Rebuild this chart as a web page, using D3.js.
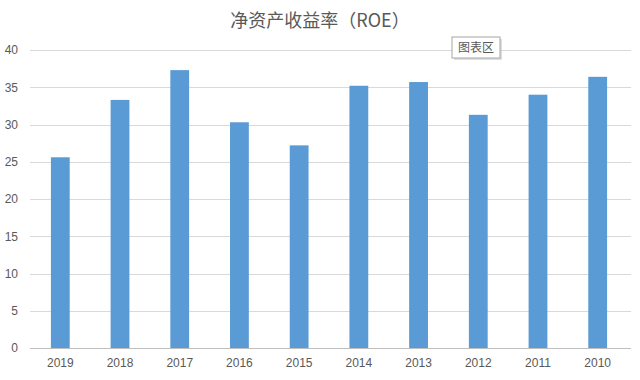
<!DOCTYPE html>
<html>
<head>
<meta charset="utf-8">
<script src="https://cdn.jsdelivr.net/npm/d3@7"></script>
<style>
  body { margin: 0; background: #fff; }
  svg text { fill: #595959; }
</style>
</head>
<body>
<div id="chart"></div>
<script>
var years = ["2019", "2018", "2017", "2016", "2015", "2014", "2013", "2012", "2011", "2010"];
var roe = [25.6, 33.3, 37.3, 30.3, 27.2, 35.2, 35.7, 31.3, 34.0, 36.4];
var yTicks = [0, 5, 10, 15, 20, 25, 30, 35, 40];
var title = "净资产收益率（ROE）";
var tipText = "图表区";

var width = 640, height = 380;
var margin = {top: 50, right: 9, bottom: 32, left: 30};

var svg = d3.select("#chart")
    .append("svg")
    .attr("width", width)
    .attr("height", height);

var xScale = d3.scaleBand()
    .domain(years)
    .range([margin.left, 628])
    .paddingInner(0.685)
    .paddingOuter(0.35);

var yScale = d3.scaleLinear()
    .domain([0, 40])
    .range([height - margin.bottom, margin.top]);

// gridlines
svg.append("g")
    .selectAll("line")
    .data(yTicks)
    .enter()
    .append("line")
    .attr("x1", margin.left)
    .attr("x2", width - margin.right)
    .attr("y1", function(d) { return Math.round(yScale(d)) + 0.5; })
    .attr("y2", function(d) { return Math.round(yScale(d)) + 0.5; })
    .attr("stroke", function(d) { return d === 0 ? "#bfbfbf" : "#d9d9d9"; })
    .attr("stroke-width", 1);

// y labels
var axisY = d3.axisLeft(yScale).tickValues(yTicks).tickSize(0).tickPadding(12);
svg.append("g")
    .attr("transform", "translate(" + margin.left + ",0)")
    .call(axisY)
    .call(function(g) { g.select(".domain").remove(); })
    .selectAll("text")
    .style("font-family", "'Liberation Sans Narrow', 'Liberation Sans', sans-serif")
    .style("font-size", "12px")
    .attr("fill", "#595959");

// bars
svg.selectAll("rect.bar")
    .data(roe)
    .enter()
    .append("rect")
    .attr("class", "bar")
    .attr("x", function(d, i) { return xScale(years[i]); })
    .attr("width", xScale.bandwidth())
    .attr("y", function(d) { return yScale(d); })
    .attr("height", function(d) { return yScale(0) - yScale(d); })
    .attr("fill", "#5b9bd5");

// x labels
var axisX = d3.axisBottom(xScale).tickSize(0).tickPadding(10);
svg.append("g")
    .attr("transform", "translate(0," + yScale(0) + ")")
    .call(axisX)
    .call(function(g) { g.select(".domain").remove(); })
    .selectAll("text")
    .style("font-family", "'Liberation Sans Narrow', 'Liberation Sans', sans-serif")
    .style("font-size", "12px")
    .attr("fill", "#595959");

// title
svg.append("text")
    .attr("x", width / 2)
    .attr("y", 27)
    .attr("text-anchor", "middle")
    .style("font-family", "'Noto Sans CJK SC', sans-serif")
    .style("font-size", "18px")
    .attr("fill", "#595959")
    .text(title);

// "chart area" hover tip
var tip = svg.append("g").attr("transform", "translate(452,37)");
tip.append("rect")
    .attr("x", 2).attr("y", 2)
    .attr("width", 48).attr("height", 21)
    .attr("fill", "#c8c8c8").attr("opacity", 0.6);
tip.append("rect")
    .attr("width", 48).attr("height", 21)
    .attr("fill", "#fff")
    .attr("stroke", "#a6a6a6");
tip.append("text")
    .attr("x", 24).attr("y", 15)
    .attr("text-anchor", "middle")
    .style("font-family", "'Noto Sans CJK SC', sans-serif")
    .style("font-size", "12px")
    .attr("fill", "#8c8c8c")
    .text(tipText);
</script>
</body>
</html>
